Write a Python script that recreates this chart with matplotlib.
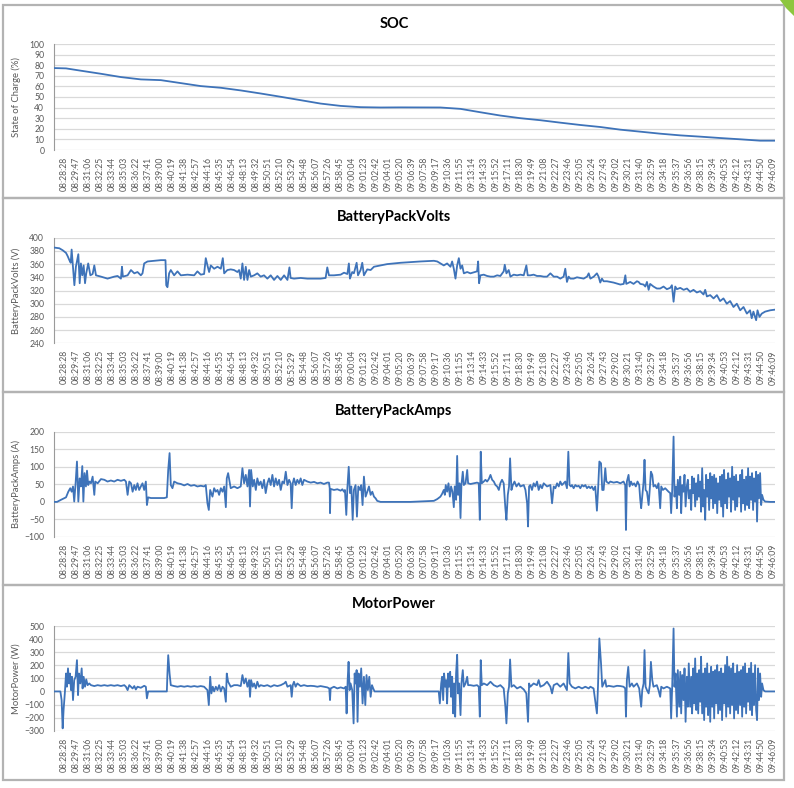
import matplotlib
matplotlib.use("Agg")
import matplotlib.pyplot as plt
from matplotlib.patches import Rectangle, Polygon

# ---------------- data ----------------
# time axis: seconds from the start of the log
tick_labels = ["08:28:28","08:29:47","08:31:06","08:32:25","08:33:44","08:35:03","08:36:22","08:37:41",
               "08:39:00","08:40:19","08:41:38","08:42:57","08:44:16","08:45:35","08:46:54","08:48:13",
               "08:49:32","08:50:51","08:52:10","08:53:29","08:54:48","08:56:07","08:57:26","08:58:45",
               "09:00:04","09:01:23","09:02:42","09:04:01","09:05:20","09:06:39","09:07:58","09:09:17",
               "09:10:36","09:11:55","09:13:14","09:14:33","09:15:52","09:17:11","09:18:30","09:19:49",
               "09:21:08","09:22:27","09:23:46","09:25:05","09:26:24","09:27:43","09:29:02","09:30:21",
               "09:31:40","09:32:59","09:34:18","09:35:37","09:36:56","09:38:15","09:39:34","09:40:53",
               "09:42:12","09:43:31","09:44:50","09:46:09"]
tick_step = 79      # seconds between labels
tick_first = 66     # seconds: position of first label
t_end = 4741

soc_pts = [(0,77.3),(79,77),(177,74.8),(309,71.9),(440,68.8),(571,66.6),(703,65.9),(834,63.1),(965,60.3),
           (1097,58.7),(1228,56.2),(1359,53.3),(1491,50.2),(1622,47),(1753,43.8),(1885,41.6),(2016,40.4),
           (2147,40.1),(2279,40.2),(2541,40.1),(2673,38.8),(2804,35.6),(2935,32.5),(3067,30),(3198,28.1),
           (3329,25.8),(3461,23.6),(3592,21.7),(3723,19.2),(3855,17.3),(3986,15.4),(4118,13.8),(4249,12.6),
           (4380,11.3),(4512,10.1),(4643,8.8),(4741,8.8)]

volts_pts = [(2,385),(35,384),(57,381),(79,377),(90,372),(101,366),(110,362),(116,382),(123,361),(134,328),
             (144,356),(160,375),(169,331),(177,361),(186,343),(195,358),(204,331),(212,346),(225,361),(239,343),
             (254,345),(265,358),(276,343),(309,341),(352,338),(396,341),(418,342),(440,338),(447,356),(453,341),
             (484,343),(506,351),(528,346),(549,348),(571,343),(582,346),(593,361),(615,364),(659,365),(703,366),
             (733,366),(738,328),(746,325),(757,346),(768,351),(790,343),(812,349),(834,343),(878,344),(922,343),
             (943,349),(965,344),(987,345),(998,369),(1009,358),(1020,348),(1031,358),(1053,353),(1075,356),
             (1097,353),(1110,369),(1119,346),(1140,351),(1162,352),(1184,351),(1206,348),(1217,351),(1228,338),
             (1239,361),(1250,336),(1261,356),(1272,336),(1283,351),(1294,341),(1316,343),(1337,346),(1359,341),
             (1381,343),(1403,338),(1425,343),(1447,336),(1469,342),(1491,336),(1513,343),(1535,336),(1548,355),
             (1556,339),(1578,338),(1622,339),(1666,338),(1710,338),(1753,338),(1786,339),(1797,355),(1808,343),
             (1841,343),(1885,344),(1907,347),(1929,345),(1939,361),(1946,338),(1961,348),(1972,346),(1990,362),
             (1999,343),(2016,351),(2027,362),(2038,343),(2060,352),(2082,351),(2104,356),(2147,358),(2191,360),
             (2279,362),(2410,364),(2498,365),(2520,364),(2541,361),(2563,358),(2585,361),(2607,356),(2618,364),
             (2629,353),(2640,338),(2651,358),(2662,369),(2673,353),(2684,358),(2695,346),(2717,348),(2738,346),
             (2782,349),(2789,364),(2795,331),(2804,343),(2826,344),(2848,342),(2870,341),(2892,341),(2914,343),
             (2935,342),(2957,349),(2964,359),(2975,346),(2990,351),(3001,341),(3023,344),(3045,343),(3067,344),
             (3089,343),(3106,358),(3115,343),(3132,343),(3154,344),(3176,342),(3198,342),(3220,341),(3242,341),
             (3264,346),(3286,341),(3308,341),(3329,338),(3351,341),(3362,353),(3373,333),(3384,341),(3395,338),
             (3417,338),(3439,340),(3461,339),(3483,338),(3505,341),(3516,346),(3527,338),(3549,341),(3570,346),
             (3581,341),(3592,332),(3603,338),(3614,334),(3636,334),(3680,332),(3724,329),(3746,330),(3757,343),
             (3763,330),(3789,333),(3811,330),(3833,334),(3844,333),(3855,330),(3877,329),(3888,326),(3899,333),
             (3910,321),(3920,330),(3942,326),(3964,323),(3986,323),(4008,326),(4030,322),(4052,324),(4063,328),
             (4074,303),(4085,326),(4096,322),(4118,324),(4140,321),(4162,323),(4183,318),(4205,321),(4227,317),
             (4249,319),(4271,314),(4282,321),(4293,311),(4315,313),(4337,308),(4359,313),(4380,304),(4402,308),
             (4424,300),(4446,304),(4468,295),(4490,300),(4512,290),(4534,295),(4556,285),(4577,290),(4588,278),
             (4599,288),(4617,275),(4626,290),(4639,280),(4654,285),(4676,288),(4709,290),(4741,291)]

amps_pts = [(0,0),(20,0),(46,6),(79,13),(94,29),(107,39),(116,29),(125,44),(133,1),(142,53),(151,115),(160,1),
            (169,67),(177,44),(186,102),(193,1),(201,82),(210,44),(217,89),(225,48),(234,58),(243,53),(254,72),
            (265,20),(271,58),(287,53),(309,65),(331,63),(352,58),(374,61),(396,58),(418,63),(440,60),(462,63),
            (473,58),(484,20),(495,58),(506,53),(517,29),(528,48),(538,34),(549,53),(560,34),(571,44),(582,53),
            (593,34),(604,58),(611,-9),(619,13),(637,11),(681,11),(725,11),(742,13),(751,91),(760,139),(768,48),
            (779,39),(790,58),(812,53),(834,51),(856,47),(878,51),(900,46),(922,48),(943,44),(965,46),(987,44),
            (998,48),(1009,-4),(1018,-23),(1027,34),(1042,15),(1053,39),(1064,29),(1075,34),(1086,20),(1097,39),
            (1108,29),(1119,44),(1130,-15),(1136,67),(1145,82),(1162,39),(1184,44),
            (1206,39),(1228,44),(1239,96),(1250,53),(1261,77),(1272,44),(1283,91),(1289,-13),(1296,91),(1307,44),
            (1316,63),(1327,34),(1337,67),(1348,48),(1359,58),(1370,39),(1381,63),(1392,25),(1403,53),(1414,67),
            (1425,48),(1436,77),(1447,44),(1458,67),(1469,48),(1480,63),(1491,34),(1502,58),(1513,53),(1524,86),
            (1535,48),(1546,63),(1556,53),(1563,-18),(1570,53),(1578,67),(1589,48),(1600,63),(1611,53),(1622,67),
            (1633,48),(1644,63),(1666,58),(1688,55),(1710,57),(1732,53),(1753,55),(1775,51),(1797,55),(1808,55),
            (1813,39),(1815,-32),(1819,37),(1841,34),(1863,36),(1885,32),(1896,36),(1907,29),(1913,34),(1922,-37),
            (1929,39),(1938,100),(1946,25),(1955,44),(1964,-51),(1972,34),(1983,48),(1992,-42),(2001,44),(2012,34),
            (2020,48),(2029,-9),(2038,72),(2049,15),(2060,29),(2071,44),(2082,20),(2093,29),(2104,15),(2115,10),
            (2125,3),(2147,0),(2344,0),(2498,3),(2520,8),(2541,15),(2552,23),(2563,34),(2570,20),(2576,48),
            (2585,29),(2594,53),(2603,15),(2611,44),(2620,29),(2629,-15),(2635,44),(2644,6),(2651,131),(2657,20),
            (2666,53),(2673,-46),(2679,48),(2688,86),(2695,48),(2706,53),(2717,91),(2723,53),(2739,51),(2760,53),
            (2782,55),(2793,53),(2800,-51),(2806,143),(2813,53),(2826,58),(2837,63),(2848,58),(2859,65),(2870,77),
            (2881,63),(2892,58),(2903,48),(2914,44),(2925,34),(2935,53),(2946,63),(2957,53),(2968,-18),(2975,-51),
            (2984,20),(2992,44),(2999,124),(3008,34),(3017,48),(3028,58),(3041,44),(3056,53),(3067,44),(3089,48),
            (3100,34),(3111,-4),(3117,-70),(3124,44),(3132,48),(3143,34),(3154,53),(3165,44),(3176,58),(3187,34),
            (3198,48),(3209,39),(3220,53),(3242,44),(3264,48),(3275,-4),(3286,44),(3297,39),(3308,53),(3319,44),
            (3329,58),(3340,48),(3351,53),(3362,58),(3373,39),(3382,143),(3390,48),(3399,44),(3406,48),(3417,39),
            (3428,48),(3439,44),(3450,46),(3461,39),(3472,48),(3483,44),(3494,48),(3505,39),(3516,44),
            (3527,39),(3537,44),(3548,34),(3559,44),(3570,-25),(3577,29),(3586,115),(3597,110),(3605,34),(3614,34),
            (3625,96),(3632,58),(3647,53),(3658,58),(3680,55),(3702,57),(3724,53),(3745,58),(3756,48),(3761,-80),
            (3767,58),(3778,77),(3785,44),(3794,58),(3804,48),(3815,53),(3826,44),(3837,58),(3848,48),(3855,6),
            (3861,-18),(3868,15),(3877,58),(3883,120),(3890,34),(3899,29),(3910,-9),(3918,39),(3925,86),(3934,77),
            (3942,44),(3953,48),(3964,39),(3975,53),(3986,-18),(3993,44),(4004,34),(4019,39),(4030,34),(4041,29),
            (4052,25),(4058,-32),(4065,34),(4074,186),(4080,15),(4089,44),(4096,-18),(4102,63),(4111,20),(4118,72),
            (4124,-32),(4131,48),(4139,29),(4146,77),(4153,-13),(4161,44),(4168,63),(4174,10),(4183,34),(4190,-23),
            (4196,72),(4203,25),(4209,67),(4216,-13),(4223,53),(4229,6),(4236,77),(4242,15),(4249,58),(4255,-28),
            (4262,96),(4269,-13),(4275,34),(4282,-51),(4288,77),(4295,15),(4301,63),(4308,-23),(4315,82),(4321,10),
            (4328,72),(4334,-18),(4341,77),(4347,-4),(4354,67),(4361,-32),(4367,53),(4374,6),(4380,72),(4387,-13),
            (4393,77),(4400,-42),(4406,91),(4413,-4),(4420,63),(4426,-18),(4433,82),(4439,15),(4446,67),(4452,-28),
            (4459,100),(4466,6),(4472,72),(4479,-23),(4485,77),(4492,-13),(4498,58),(4505,15),(4512,77),(4518,-28),
            (4525,91),(4531,-4),(4538,63),(4544,-23),(4551,72),(4558,-9),(4564,96),(4571,-18),(4577,72),(4584,6),
            (4590,82),(4597,-23),(4603,67),(4610,1),(4617,86),(4623,-56),(4630,77),(4636,10),(4643,82),(4650,-9),
            (4656,20),(4665,6),(4676,1),(4709,0),(4741,0)]

power_pts = [(0,0),(42,0),(50,-66),(57,-282),(63,-142),(72,0),(79,137),(85,36),(92,176),(99,61),(105,137),(112,10),
             (118,112),(125,-66),(133,87),(142,112),(151,239),(158,-28),(164,137),(173,61),(182,176),(188,23),
             (195,112),(204,36),(212,92),(221,48),(232,61),(243,48),(265,41),(287,48),(309,43),(331,48),(352,43),
             (374,48),(396,43),(418,48),(440,41),(462,48),(473,36),(484,10),(495,48),(506,36),(517,23),(528,41),
             (538,15),(549,36),(571,28),(593,43),(604,36),(611,-53),(619,0),(725,0),(742,0),(746,137),(751,277),
             (760,137),(768,48),(790,41),(812,36),(834,41),(856,36),(878,41),(900,36),(922,41),(943,36),(965,41),
             (987,36),(1009,10),(1018,-104),(1027,112),(1035,-15),(1044,36),(1053,0),(1064,36),(1075,10),(1086,48),
             (1097,0),(1108,36),(1119,23),(1130,-79),(1136,137),(1145,74),(1162,36),(1184,48),
             (1206,48),(1228,41),(1239,125),(1250,61),(1261,99),(1272,36),(1283,87),(1289,-41),(1296,87),(1307,36),
             (1316,61),(1327,23),(1337,74),(1348,36),(1359,48),(1381,41),(1403,48),(1425,36),(1447,48),(1469,41),
             (1491,48),(1513,61),(1524,74),(1535,36),(1556,48),(1563,-41),(1570,48),(1578,74),(1589,36),(1600,61),
             (1622,41),(1644,48),(1666,41),(1688,43),(1710,41),(1732,36),(1753,41),(1775,36),(1797,31),(1810,23),
             (1815,-66),(1819,23),(1841,36),(1863,23),(1885,31),(1907,23),(1918,36),(1924,-168),(1931,87),(1937,226),
             (1944,10),(1950,61),(1961,10),(1970,-244),(1977,137),(1983,61),(1990,163),(1996,-232),(2003,137),
             (2012,36),(2020,176),(2029,-92),(2038,112),(2047,-104),(2055,125),(2064,10),(2073,112),(2082,-41),
             (2091,48),(2099,23),(2108,0),(2125,0),(2344,0),(2530,0),(2537,-92),(2546,61),(2552,112),(2559,-66),
             (2565,137),(2572,36),(2579,87),(2585,-92),(2592,137),(2598,36),(2605,150),(2611,-41),(2618,112),
             (2625,-168),(2631,61),(2638,-193),(2644,137),(2651,280),(2657,-15),(2664,61),(2673,-181),(2679,61),
             (2688,163),(2695,36),(2706,61),(2717,112),(2723,48),(2738,48),(2760,43),(2782,48),(2793,36),(2800,-193),
             (2806,239),(2813,48),(2826,61),(2848,48),(2870,74),(2892,48),(2914,36),(2935,48),(2957,23),(2968,-117),
             (2975,-244),(2984,-15),(2992,36),(2999,244),(3008,36),(3023,48),(3045,23),(3067,36),(3089,15),
             (3106,-15),(3117,-232),(3124,61),(3132,36),(3154,61),(3176,48),(3187,87),(3198,36),(3220,48),(3242,74),
             (3264,36),(3275,-15),(3286,48),(3308,61),(3329,36),(3351,61),(3362,36),(3373,10),(3382,293),(3391,61),
             (3406,36),(3428,23),(3450,36),(3472,23),(3494,36),(3516,23),
             (3527,36),(3548,23),(3570,-168),(3577,36),(3586,405),(3597,214),(3605,36),(3625,87),(3632,36),(3647,43),
             (3680,36),(3702,43),(3724,41),(3745,36),(3756,23),(3761,-193),(3767,87),(3776,188),(3785,36),(3800,61),
             (3811,36),(3833,61),(3848,23),(3855,-53),(3861,-117),(3868,10),(3877,61),(3883,316),(3890,36),(3899,10),
             (3910,-15),(3918,48),(3925,226),(3934,87),(3942,36),(3964,48),(3975,10),(3986,-41),(3993,36),(4008,23),
             (4030,36),(4052,23),(4058,-206),(4065,36),(4074,481),(4080,36),
             (4087,137),(4096,-193),(4102,163),(4111,-117),(4118,150),(4124,-168),(4131,125),(4139,-66),(4146,176),
             (4153,-232),(4161,112),(4168,-117),(4174,214),(4183,-117),(4190,112),(4196,-168),(4203,176),(4209,-92),
             (4216,252),(4223,-142),(4229,137),(4236,-168),(4242,163),(4249,-79),(4255,265),(4262,-168),(4269,137),
             (4275,-219),(4282,176),(4288,-117),(4295,214),(4301,-181),(4308,137),(4315,-232),(4321,188),(4328,-117),
             (4334,150),(4341,-206),(4347,163),(4354,-92),(4361,201),(4367,-168),(4374,150),(4380,-142),(4387,176),
             (4393,-219),(4400,137),(4406,-92),(4413,201),(4420,-193),(4426,265),(4433,-117),(4439,188),(4446,-168),
             (4452,176),(4459,-104),(4466,214),(4472,-206),(4479,137),(4485,-142),(4492,201),(4498,-168),(4505,150),
             (4512,-104),(4518,163),(4525,-193),(4531,188),(4538,-117),(4544,214),(4551,-168),(4558,137),(4564,-79),
             (4571,176),(4577,-142),(4584,219),(4590,-181),(4597,137),(4603,-104),(4610,201),(4617,-142),(4623,-219),
             (4630,176),(4636,-66),(4643,137),(4650,-41),(4656,61),(4665,10),(4676,0),(4741,0)]

panels = [
    dict(title="SOC", ylabel="State of Charge (%)", pts=soc_pts, ylim=(0, 100), step=10),
    dict(title="BatteryPackVolts", ylabel="BatteryPackVolts (V)", pts=volts_pts, ylim=(240, 400), step=20),
    dict(title="BatteryPackAmps", ylabel="BatteryPackAmps (A)", pts=amps_pts, ylim=(-100, 200), step=50),
    dict(title="MotorPower", ylabel="MotorPower (W)", pts=power_pts, ylim=(-300, 500), step=100),
]

# ---------------- layout ----------------
W, H = 794, 788
fig = plt.figure(figsize=(W / 100, H / 100), dpi=100)
fig.patch.set_facecolor("white")

FONT = "Lato"
LINE = "#3e73b9"
TXT = "#595959"

# axes rectangles in pixels: left, top, right, bottom
ax_px = [(54, 44, 775, 150), (54, 237.7, 775, 343.3), (54, 431.7, 775, 537), (54, 626, 775, 730.7)]
box_px = [(3, 5, 784, 198), (3, 198, 784, 392), (3, 392, 784, 585), (3, 585, 784, 780)]
title_y = [23.5, 217.5, 411, 604]

import numpy as np
ticks = [tick_first + tick_step * k for k in range(len(tick_labels))]

for p, (l, t, r, b), (bl, bt, br, bb), ty in zip(panels, ax_px, box_px, title_y):
    fig.patches.append(Rectangle((bl / W, 1 - bb / H), (br - bl) / W, (bb - bt) / H,
                                 transform=fig.transFigure, fill=False, edgecolor="#b3b3b3",
                                 linewidth=1.6, zorder=0))
    ax = fig.add_axes([l / W, 1 - b / H, (r - l) / W, (b - t) / H])
    xs = [q[0] for q in p["pts"]]
    ys = [q[1] for q in p["pts"]]
    ax.plot(xs, ys, color=LINE, linewidth=1.3, solid_joinstyle="round", zorder=3)
    lo, hi = p["ylim"]
    ax.set_ylim(lo, hi)
    ax.set_xlim(0, t_end)
    ax.set_yticks(np.arange(lo, hi + 1, p["step"]))
    ax.set_xticks(ticks)
    ax.set_xticklabels(tick_labels, rotation=90, fontsize=6.2, color=TXT, family=FONT)
    for lab in ax.get_yticklabels():
        lab.set_fontsize(6.2)
        lab.set_color(TXT)
        lab.set_family(FONT)
    ax.tick_params(axis="both", length=0)
    ax.tick_params(axis="y", pad=7)
    ax.tick_params(axis="x", pad=5)
    ax.grid(axis="y", color="#d9d9d9", linewidth=0.9, zorder=0)
    for s in ("top", "right", "bottom"):
        ax.spines[s].set_visible(False)
    ax.spines["left"].set_color("#9a9a9a")
    ax.spines["left"].set_linewidth(0.8)
    ax.set_ylabel(p["ylabel"], fontsize=6.8, color=TXT, family=FONT)
    ax.yaxis.set_label_coords(-0.046, 0.5)
    ax.set_facecolor("none")
    fig.text(394 / W, 1 - ty / H, p["title"], ha="center", va="center",
             fontsize=10.5, fontweight="bold", family=FONT, color="black")

# small green corner decoration of the slide
fig.patches.append(Polygon([(780 / W, 1.0), (794 / W, 1.0), (794 / W, 1 - 16 / H), (786 / W, 1 - 8 / H)],
                           closed=True, transform=fig.transFigure, facecolor="#8dc63f",
                           edgecolor="none", zorder=0))

fig.savefig("out.png", dpi=100)
